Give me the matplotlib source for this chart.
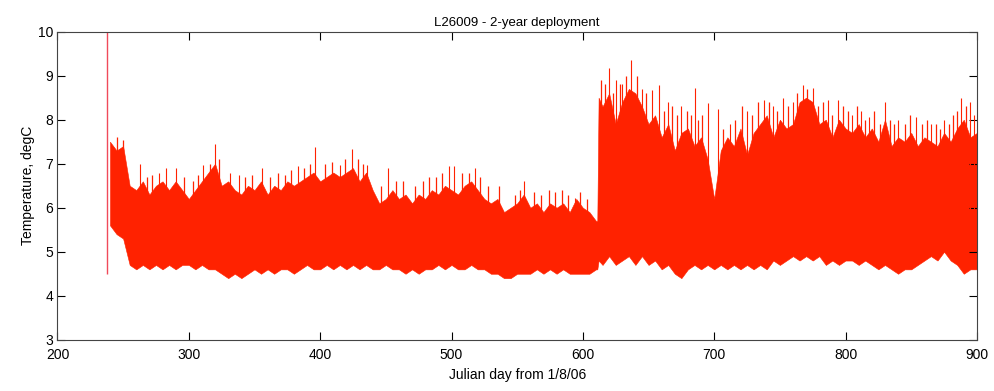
import matplotlib
matplotlib.use('agg')
import matplotlib.pyplot as plt

plt.rcParams["font.family"] = ["Liberation Sans", "DejaVu Sans"]
plt.rcParams.update({'font.size': 10})

# Envelope of the dense temperature record
env_day = list(range(240, 611, 5)) + [611, 612] + list(range(615, 901, 5))

env_upper = [
    7.5, 7.3, 7.4, 6.5, 6.4, 6.6, 6.3, 6.5, 6.6, 6.4,   # 240-285
    6.6, 6.4, 6.2, 6.4, 6.6, 6.8, 7.0, 6.5, 6.6, 6.4,   # 290-335
    6.3, 6.5, 6.4, 6.6, 6.3, 6.5, 6.4, 6.6, 6.5, 6.6,   # 340-385
    6.7, 6.8, 6.6, 6.7, 6.8, 6.7, 6.8, 6.9, 6.6, 6.8,   # 390-435
    6.4, 6.1, 6.2, 6.4, 6.2, 6.3, 6.1, 6.3, 6.2, 6.4,   # 440-485
    6.3, 6.5, 6.4, 6.3, 6.5, 6.6, 6.4, 6.2, 6.1, 6.2,   # 490-535
    5.9, 6.0, 6.1, 6.3, 6.0, 6.1, 5.9, 6.1, 6.0, 6.1,   # 540-585
    5.9, 6.2, 6.0, 5.9, 5.7,                            # 590-610
    5.7, 8.5,                                           # 611, 612
    8.3, 8.6, 7.9, 8.4, 8.7, 8.6, 8.3, 7.9, 8.1, 7.6,   # 615-660
    7.9, 7.3, 7.7, 7.8, 7.4, 7.6, 7.1, 6.2, 7.3, 7.6,   # 665-710
    7.4, 7.8, 7.2, 7.7, 7.9, 8.1, 7.6, 8.0, 7.8, 7.9,   # 715-760
    8.4, 8.5, 8.4, 7.9, 8.0, 7.6, 8.0, 7.8, 7.7, 7.9,   # 765-810
    7.6, 7.8, 7.5, 8.0, 7.4, 7.6, 7.5, 7.7, 7.4, 7.6,   # 815-860
    7.5, 7.4, 7.7, 7.5, 7.8, 8.0, 7.6, 7.7,             # 865-900
]

env_lower = [
    5.6, 5.4, 5.3, 4.7, 4.6, 4.7, 4.6, 4.7, 4.6, 4.7,
    4.6, 4.7, 4.7, 4.6, 4.7, 4.6, 4.6, 4.5, 4.4, 4.5,
    4.4, 4.5, 4.6, 4.5, 4.6, 4.5, 4.6, 4.6, 4.5, 4.6,
    4.7, 4.6, 4.6, 4.7, 4.6, 4.7, 4.6, 4.7, 4.6, 4.7,
    4.6, 4.6, 4.7, 4.6, 4.6, 4.5, 4.6, 4.5, 4.6, 4.6,
    4.7, 4.6, 4.7, 4.6, 4.6, 4.7, 4.6, 4.6, 4.5, 4.5,
    4.4, 4.4, 4.5, 4.5, 4.5, 4.6, 4.5, 4.6, 4.5, 4.6,
    4.5, 4.5, 4.5, 4.5, 4.6,
    4.6, 4.8,
    4.7, 4.9, 4.7, 4.8, 4.9, 4.7, 4.9, 4.7, 4.8, 4.6,
    4.7, 4.5, 4.4, 4.6, 4.7, 4.6, 4.7, 4.6, 4.7, 4.6,
    4.7, 4.6, 4.7, 4.6, 4.7, 4.6, 4.8, 4.7, 4.8, 4.9,
    4.8, 4.9, 4.8, 4.9, 4.7, 4.8, 4.7, 4.8, 4.8, 4.7,
    4.8, 4.7, 4.6, 4.7, 4.6, 4.5, 4.6, 4.6, 4.7, 4.8,
    4.9, 4.8, 5.0, 4.8, 4.7, 4.5, 4.6, 4.6,
]

# Tall spikes rising above the band
spike_day = [263, 277, 283, 290, 311, 320, 331, 338, 356, 383,
             396, 415, 424, 436, 452, 498, 502, 518, 555, 594,
             620, 625, 630, 636.5, 645, 653, 658, 665, 675, 685,
             695, 703, 712, 725, 738, 745, 752, 760, 767.5, 775,
             786.5, 794, 805, 812, 818, 830, 840, 854, 865, 875,
             888, 895, 898]
spike_top = [7.0, 6.8, 6.9, 6.9, 6.96, 7.45, 6.8, 6.75, 6.9, 6.95,
             7.38, 6.96, 7.33, 6.96, 6.9, 6.95, 6.95, 6.9, 6.6, 6.23,
             9.17, 8.9, 8.8, 9.36, 8.7, 8.67, 8.79, 8.4, 8.3, 8.72,
             8.38, 8.25, 7.9, 8.2, 8.45, 8.3, 8.5, 8.4, 8.79, 8.72,
             8.45, 8.45, 8.1, 8.2, 8.07, 8.4, 8.0, 8.06, 7.9, 8.0,
             8.5, 8.4, 8.1]

# Smaller spikes along the top of the band
minor_day = [245, 250, 268, 272, 296, 303, 307, 316, 323, 343,
             348, 362, 368, 373, 378, 388, 392, 404, 409, 419,
             429, 433, 446, 458, 463, 472, 478, 483, 488, 493,
             508, 513, 522, 528, 536, 548, 552, 563, 568, 574,
             579, 584, 589, 598, 603,
             614, 617, 623, 628, 633, 641, 648, 662, 668, 672,
             679, 682, 688, 691, 707, 716, 721, 729, 733, 742,
             748, 756, 763, 771, 779, 783, 790, 798, 802, 809,
             815, 822, 826, 834, 837, 845, 849, 858, 862, 869,
             872, 879, 882, 885, 892]
minor_top = [7.6, 7.55, 6.7, 6.75, 6.7, 6.6, 6.75, 7.0, 7.1, 6.7,
             6.75, 6.7, 6.8, 6.75, 6.85, 6.9, 7.0, 7.0, 7.05, 7.1,
             7.1, 7.0, 6.5, 6.6, 6.6, 6.5, 6.6, 6.7, 6.7, 6.8,
             6.8, 6.8, 6.7, 6.5, 6.5, 6.3, 6.4, 6.35, 6.3, 6.4,
             6.35, 6.4, 6.3, 6.35, 6.2,
             8.9, 8.8, 8.6, 8.8, 9.0, 9.0, 8.6, 8.2, 8.3, 8.1,
             8.2, 8.1, 8.0, 8.1, 7.8, 8.0, 8.3, 8.1, 8.4, 8.4,
             8.2, 8.3, 8.6, 8.7, 8.3, 8.4, 8.1, 8.3, 8.2, 8.3,
             8.0, 8.2, 7.9, 8.0, 7.9, 7.9, 8.1, 7.9, 8.0, 7.9,
             7.8, 7.9, 8.1, 8.2, 8.3]

# first reading after deployment
start_day = [237.8]
start_low = [4.5]
start_high = [10.0]

red = '#ff2200'

fig = plt.figure(figsize=(9.94, 3.91), dpi=100)
ax = fig.add_axes([0.0578, 0.131, 0.925, 0.788])

ax.fill_between(env_day, env_lower, env_upper, color=red, linewidth=0.4, edgecolor=red)
ax.vlines(spike_day, 5.5, spike_top, color=red, linewidth=0.8)
ax.vlines(minor_day, 5.5, minor_top, color=red, linewidth=0.9)
ax.vlines(start_day, start_low, start_high, color='#f04a5a', linewidth=1.0)

ax.set_xlim(200, 900)
ax.set_ylim(3, 10)
ax.set_xticks(range(200, 901, 100))
ax.set_yticks(range(3, 11))
ax.tick_params(direction='in', top=True, right=True, length=6, width=0.8)
ax.tick_params(axis='x', pad=6)
ax.tick_params(axis='y', pad=3)
for s in ax.spines.values():
    s.set_linewidth(0.8)
    s.set_color('#444444')

ax.set_xlabel('Julian day from 1/8/06', labelpad=4)
ax.set_ylabel('Temperature, degC', labelpad=2)
ax.set_title('L26009 - 2-year deployment', fontsize=9.5, pad=4)

fig.savefig('out.png', dpi=100)
